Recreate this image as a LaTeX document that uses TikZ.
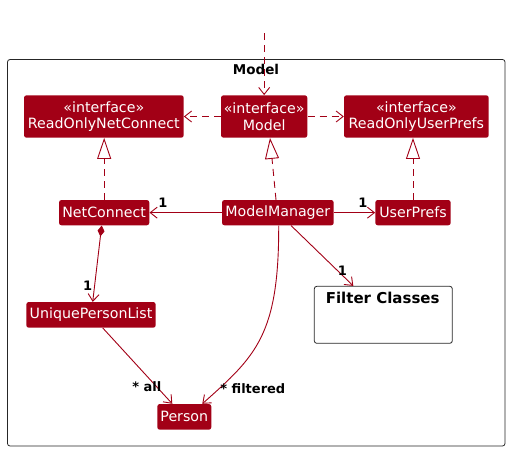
\documentclass[tikz,border=0pt]{standalone}
\usepackage{fontspec}
\setmainfont{DejaVu Sans}
\usetikzlibrary{arrows.meta}
\definecolor{umlred}{RGB}{162,0,22}
\tikzset{
  cls/.style={fill=umlred, draw=none, rounded corners=2.5pt, text=white, inner sep=0pt,
    font=\fontsize{14.2}{16.7}\selectfont, align=center},
  lab/.style={font=\bfseries\fontsize{13}{15}\selectfont, text=black, inner sep=0pt},
  conn/.style={draw=umlred, line width=0.9pt},
  dep/.style={conn, dash pattern=on 7pt off 5pt, -{Straight Barb[length=7pt,width=11pt]}},
  real/.style={conn, dash pattern=on 7pt off 5pt, -{Triangle[open,length=21pt,width=14pt,fill=white]}},
  assoc/.style={conn, -{Straight Barb[length=7pt,width=11pt]}},
}
\begin{document}
\begin{tikzpicture}[x=1pt,y=-1pt]
\useasboundingbox (0,0) rectangle (510,451);
% package frame
\draw[black!85, line width=0.8pt, rounded corners=2.5pt] (7.5,59.5) rectangle (505,446);
\node[font=\bfseries\fontsize{13.5}{16}\selectfont] (title) at (256,69.5) {Model};
% classes
\node[cls, minimum width=159.7pt, minimum height=42.4pt] (ronc) at (103.85,116.5) {«interface»\\ReadOnlyNetConnect};
\node[cls, minimum width=86.3pt, minimum height=42.4pt] (model) at (264.15,116.5) {«interface»\\Model};
\node[cls, minimum width=144.7pt, minimum height=42.4pt] (roup) at (416.35,116.5) {«interface»\\ReadOnlyUserPrefs};
\node[cls, minimum width=90.3pt, minimum height=25.3pt] (nc) at (104.15,212.65) {NetConnect};
\node[cls, minimum width=111.7pt, minimum height=25.3pt] (mm) at (277.85,212.65) {ModelManager};
\node[cls, minimum width=75.4pt, minimum height=25.3pt] (up) at (413,212.65) {UserPrefs};
\node[cls, minimum width=129.4pt, minimum height=25.7pt] (upl) at (91,314.85) {UniquePersonList};
\node[cls, minimum width=54pt, minimum height=25.7pt] (person) at (184.3,416.85) {Person};
\node[draw=black!85, line width=0.8pt, rounded corners=2.5pt, minimum width=138pt, minimum height=57pt, inner sep=0pt] (filter) at (383.3,314.8) {};
\node[font=\bfseries\fontsize{15}{17}\selectfont] (filtertitle) at (382.7,297.5) {Filter Classes};
% connectors
\coordinate (topin) at (264.15,33);
\draw[dep] (topin) -- (model.north);
\draw[dep] (model.west) -- (ronc.east);
\draw[dep] (model.east) -- (roup.west);
\draw[real] (nc.north) -- (nc.north |- ronc.south);
\draw[real] ([xshift=-1.85pt]mm.north) -- ([xshift=5.85pt]model.south);
\draw[real] (up.north) -- (up.north |- roup.south);
\draw[assoc] (mm.west) -- (nc.east);
\draw[assoc] (mm.east) -- (up.west);
\draw[conn, {Diamond[length=11pt,width=7pt]}-{Straight Barb[length=7pt,width=11pt]}] ([xshift=-2.45pt]nc.south) -- ([xshift=1.7pt]upl.north);
\draw[assoc] ([xshift=11.7pt]upl.south) -- ([xshift=-12pt]person.north);
\draw[assoc] ([xshift=0.85pt]mm.south) .. controls (279,335) and (256,356) .. ([xshift=18pt]person.north);
\draw[assoc] ([xshift=13.15pt]mm.south) -- ([xshift=-30pt]filter.north);
% labels
\node[lab] (l1) at (163,203) {1};
\node[lab] (l2) at (362.8,203) {1};
\node[lab] (l3) at (87.7,285.7) {1};
\node[lab] (l4) at (146.8,386.7) {* all};
\node[lab] (l5) at (252.8,388.3) {* filtered};
\node[lab] (l6) at (342.3,270.7) {1};
\end{tikzpicture}
\end{document}
